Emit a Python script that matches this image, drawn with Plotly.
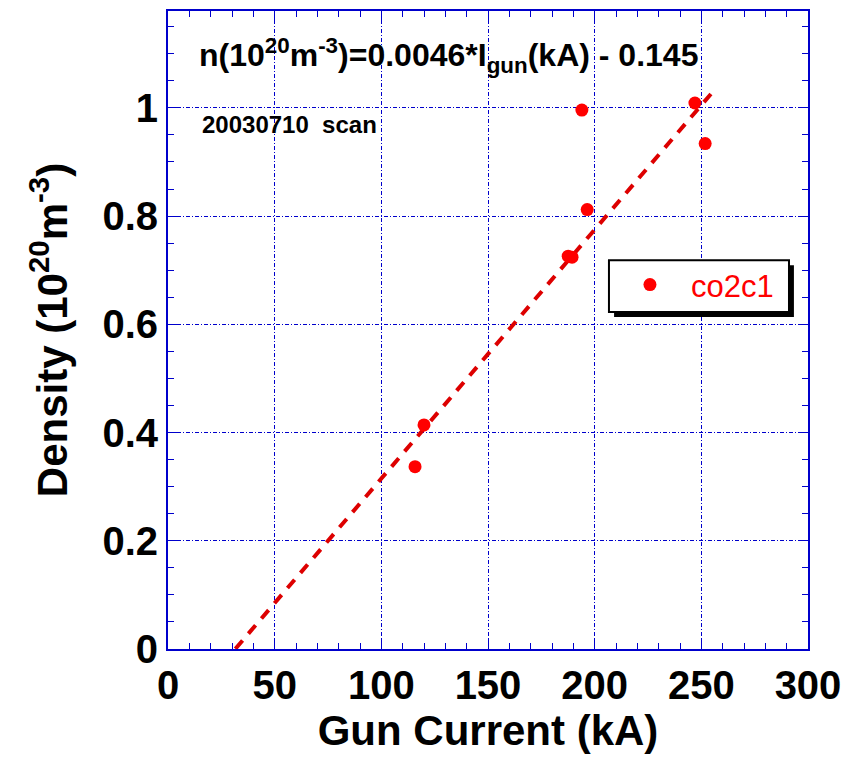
import plotly.graph_objects as go

# Measured density vs gun current, 2003-07-10 scan
gun_current_ka = [115.8, 120.0, 187.6, 189.4, 194.0, 196.5, 247.0, 251.8]
density = [0.337, 0.414, 0.726, 0.724, 0.996, 0.812, 1.009, 0.934]

# Linear fit: n = 0.0046 * I_gun - 0.145
fit_slope = 0.0046
fit_offset = -0.145
fit_x = [31.6, 254.5]
fit_y = [fit_slope * v + fit_offset for v in fit_x]

x_ticks = [0, 50, 100, 150, 200, 250, 300]
y_ticks = [0, 0.2, 0.4, 0.6, 0.8, 1.0]
y_tick_text = ["0", "0.2", "0.4", "0.6", "0.8", "1"]

FONT = "Liberation Sans, Arial, sans-serif"
BLUE = "#0000cc"
RED = "#ff0000"

fig = go.Figure()

fig.add_trace(go.Scatter(
    x=fit_x, y=fit_y, mode="lines",
    line=dict(color="#dd0000", width=4, dash="11px,9px"),
    showlegend=False, hoverinfo="skip",
))

fig.add_trace(go.Scatter(
    x=gun_current_ka, y=density, mode="markers", name="co2c1",
    marker=dict(color=RED, size=13, line=dict(width=0)),
))

axis_common = dict(
    showline=True, linecolor=BLUE, linewidth=2, mirror="ticks",
    ticks="inside", tickcolor=BLUE, ticklen=10, tickwidth=1,
    showgrid=True, gridcolor=BLUE, gridwidth=1, griddash="4px,2px,1px,2px",
    zeroline=False,
    tickfont=dict(family=FONT, size=40, color="black", weight="bold"),
)

fig.update_xaxes(
    range=[0, 300], tickvals=x_ticks,
    minor=dict(dtick=10, ticks="inside", ticklen=6, tickcolor=BLUE, showgrid=False),
    title=dict(text="Gun Current (kA)", font=dict(family=FONT, size=42, color="black", weight="bold"), standoff=6),
    **axis_common,
)
fig.update_yaxes(
    range=[0, 1.179], tickvals=y_ticks, ticktext=y_tick_text,
    minor=dict(dtick=0.05, ticks="inside", ticklen=6, tickcolor=BLUE, showgrid=False),
    title=dict(text="Density (10<sup>20</sup>m<sup>-3</sup>)", font=dict(family=FONT, size=42, color="black", weight="bold"), standoff=22),
    **axis_common,
)

fig.add_annotation(
    xref="paper", yref="paper", x=0.045, y=0.93, xanchor="left", yanchor="middle",
    text="n(10<sup>20</sup>m<sup>-3</sup>)=0.0046*I<sub>gun</sub>(kA) - 0.145",
    showarrow=False, font=dict(family=FONT, size=32, color="black", weight="bold"),
)
fig.add_annotation(
    xref="paper", yref="paper", x=0.05, y=0.822, xanchor="left", yanchor="middle",
    text="20030710  scan",
    showarrow=False, font=dict(family=FONT, size=24, color="black", weight="bold"),
)

# legend frame: drop shadow, then white box with black border
fig.add_shape(
    type="rect", xref="paper", yref="paper", layer="above",
    x0=0.697, x1=0.978, y0=0.5203, y1=0.6016,
    fillcolor="black", line=dict(width=0),
)
fig.add_shape(
    type="rect", xref="paper", yref="paper", layer="above",
    x0=0.689, x1=0.9703, y0=0.5281, y1=0.6094,
    fillcolor="white", line=dict(color="black", width=2),
)

fig.update_layout(
    width=850, height=757,
    margin=dict(l=168, r=42, t=9, b=108),
    paper_bgcolor="white", plot_bgcolor="white",
    showlegend=True,
    legend=dict(
        x=0.689, y=0.613, xanchor="left", yanchor="top",
        bgcolor="rgba(0,0,0,0)", borderwidth=0,
        font=dict(family=FONT, size=31, color=RED),
        itemwidth=72,
    ),
)

fig.write_html("out.html")
